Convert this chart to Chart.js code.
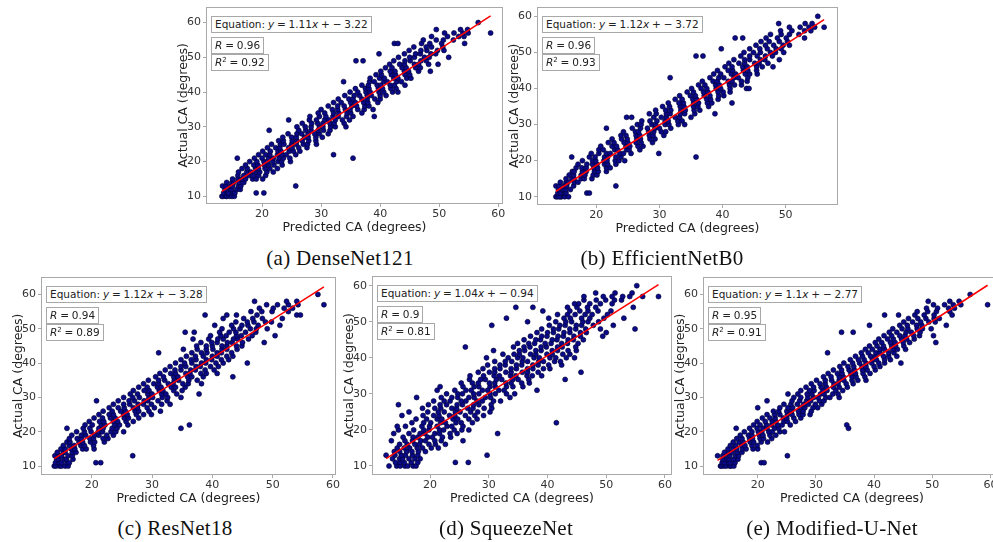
<!DOCTYPE html>
<html>
<head>
<meta charset="utf-8">
<script src="https://cdn.jsdelivr.net/npm/chart.js@4.4.1/dist/chart.umd.min.js"></script>
<style>
  body { margin: 0; background: #fff; width: 993px; height: 542px; overflow: hidden; position: relative; }
  canvas { position: absolute; display: block; }
  .ann { position: absolute; border: 1px solid #a8a8a8; background: #fff; font: 10.5px "DejaVu Sans"; color: #222;
         padding: 1px 3px; white-space: nowrap; line-height: 13px; word-spacing: -0.5px; }
  .ann sup { font-size: 7px; line-height: 0; vertical-align: 4px; }
  .cap { position: absolute; font: 21px "Liberation Serif"; color: #111; white-space: nowrap;
         transform: translateX(-50%); line-height: 24px; letter-spacing: 0.3px; }
</style>
</head>
<body>
<script>
// tick labels
var xTicks = [20, 30, 40, 50, 60];
var yTicks = [10, 20, 30, 40, 50, 60];

// fitted line of each model: y = slope * x + intercept
var slopes = [1.11, 1.12, 1.12, 1.04, 1.1];
var intercepts = [-3.22, -3.72, -3.28, -0.94, -2.77];
var rValues = [0.96, 0.96, 0.94, 0.9, 0.95];
var r2Values = [0.92, 0.93, 0.89, 0.81, 0.91];
var captions = ["(a) DenseNet121", "(b) EfficientNetB0", "(c) ResNet18", "(d) SqueezeNet", "(e) Modified-U-Net"];

// each row: [actual CA, predicted CA, predicted CA, ...]
var denseRows = [
  [10, 13.2,13.4,13.9,14.0,14.5,14.9,15.3],
  [11, 13.5,14.1,14.3,15.1,15.4,19.0,20.3],
  [12, 13.7,14.6,14.8,15.7,16.3],
  [13, 13.3,13.9,14.7,15.0,16.0,16.4,25.7],
  [14, 14.0,14.9,15.2,16.1,16.9],
  [15, 15.0,15.9,16.6,17.2,18.4,19.0,20.1],
  [16, 15.9,16.9,17.8,18.6,19.4,20.6],
  [17, 16.0,17.4,18.1,19.0,19.6,20.8,21.9],
  [18, 16.6,17.5,18.9,19.4,20.5,21.3,22.6],
  [19, 17.2,18.6,19.3,20.4,21.1,22.0,23.4],
  [20, 17.9,19.1,20.3,20.9,21.8,22.7,23.3,24.8],
  [21, 15.8,18.7,20.0,21.1,21.9,22.9,23.6,24.7,35.4],
  [22, 19.4,20.6,21.3,22.6,23.4,24.1,25.7,32.1],
  [23, 20.1,21.4,22.7,23.2,24.6,25.3,26.4],
  [24, 20.9,22.3,23.0,24.5,25.1,26.2,27.6],
  [25, 21.6,23.1,23.7,25.0,25.8,27.0,27.7,29.2],
  [26, 22.8,23.6,25.1,25.9,26.8,27.9,29.1],
  [27, 23.5,25.0,25.8,27.2,27.8,29.1,30.2],
  [28, 24.4,25.9,26.7,27.8,28.9,29.7,31.2],
  [29, 21.2,26.2,27.4,28.3,29.5,30.4,31.5],
  [30, 25.9,27.3,28.3,29.7,30.3,31.6,32.4,34.2],
  [31, 26.8,28.4,29.4,30.3,31.5,32.2,33.9],
  [32, 24.5,28.0,29.2,30.6,31.3,32.4,33.6,34.8],
  [33, 28.1,29.7,30.8,32.0,32.9,34.3,35.4,39.0],
  [34, 29.5,30.6,32.1,33.0,34.4,35.0,36.9],
  [35, 30.0,31.9,32.8,34.1,34.9,36.2,37.3,38.8],
  [36, 31.2,32.8,33.9,35.2,36.0,37.4,38.1],
  [37, 32.1,33.4,35.0,35.8,37.2,37.9,39.6],
  [38, 32.9,34.7,35.4,36.9,37.8,39.1,40.0],
  [39, 34.0,35.6,36.5,37.8,38.5,40.0,41.0],
  [40, 34.9,36.2,37.6,38.3,39.8,40.6,42.1,43.0],
  [41, 35.8,37.5,38.1,39.7,40.4,41.8,42.7],
  [42, 36.9,38.0,39.5,40.1,41.7,42.4,44.2],
  [43, 33.8,38.2,39.0,40.6,41.2,42.8,43.6],
  [44, 38.3,39.9,40.7,42.3,43.0,44.5,45.2],
  [45, 39.3,40.2,41.9,42.6,44.2,45.0],
  [46, 40.1,41.7,42.5,44.1,44.8,46.5,48.5],
  [47, 40.9,42.0,43.7,44.4,46.0,46.8],
  [48, 41.6,43.3,44.1,45.8,46.5,48.2,49.8],
  [49, 35.9,37.1,42.3,44.2,45.1,46.9,47.8],
  [50, 43.1,45.0,45.8,47.5,48.3,51.6],
  [51, 39.8,44.1,46.0,46.8,48.6,49.4],
  [52, 44.9,46.9,47.9,49.7,50.8],
  [53, 45.7,47.8,48.7,50.6],
  [54, 42.4,43.0,47.0,48.4,50.4,54.3],
  [55, 47.3,49.5,50.7,52.4],
  [56, 48.7,51.4,53.3,54.2],
  [57, 50.9,52.5,54.0,54.9,58.7],
  [58, 49.5,53.6,54.8],
  [60, 56.6]
];

var efficientRows = [
  [10, 13.6,13.8,14.3,14.5,15.0,15.6,14.1],
  [11, 13.9,14.3,15.0,15.2,18.5,18.9],
  [12, 14.0,14.8,15.1,15.9],
  [13, 13.6,14.1,14.9,15.3,16.4,23.1],
  [14, 14.3,15.2,15.5,16.5,17.1],
  [15, 15.2,16.1,16.5,17.6,18.1,19.3],
  [16, 15.7,16.4,17.6,18.2,19.5,20.1],
  [17, 16.2,16.5,17.8,18.4,19.7,20.3,21.6],
  [18, 16.8,17.7,18.4,19.6,20.2,21.6,22.2],
  [19, 17.1,18.5,19.4,20.1,21.3,21.8,23.1],
  [20, 17.8,19.4,19.9,21.2,21.7,23.0,23.6,24.5],
  [21, 16.1,18.9,19.8,21.3,21.8,23.1,23.9,35.8],
  [22, 19.2,20.4,21.6,22.2,23.7,24.3,25.5,29.9],
  [23, 20.4,21.1,22.9,23.4,24.8,25.2,26.9],
  [24, 20.7,22.5,23.2,24.7,25.3,26.6,27.4],
  [25, 21.9,22.8,24.4,25.0,26.3,27.1,28.9],
  [26, 22.5,24.0,24.9,26.4,27.0,28.5,29.3],
  [27, 23.9,24.7,26.3,26.9,28.4,29.0,30.7],
  [28, 24.3,26.2,26.7,28.3,29.1,30.3,31.0],
  [29, 21.6,25.7,27.0,28.1,29.3,30.0,31.8],
  [30, 26.5,27.1,28.8,29.4,30.9,31.5,33.0,34.0],
  [31, 27.2,28.5,29.6,30.9,31.4,32.9,33.6],
  [32, 24.8,25.6,29.1,30.3,31.1,32.5,33.2,35.0],
  [33, 28.4,29.5,31.1,31.7,33.3,34.0,35.6,38.8],
  [34, 29.4,31.0,31.8,33.4,34.1,35.5,36.4],
  [35, 30.5,31.6,33.3,33.9,35.4,36.1,37.8],
  [36, 31.4,33.1,33.8,35.4,36.2,37.6,38.3,41.5],
  [37, 32.5,33.6,35.3,35.9,37.5,38.1,39.3],
  [38, 33.2,34.9,35.7,37.1,38.0,39.4,40.2],
  [39, 34.4,35.4,37.0,37.7,39.3,40.1,41.2],
  [40, 35.1,36.6,37.5,39.0,39.7,41.2,43.8,44.2],
  [41, 36.2,37.2,38.9,39.5,41.1,41.9,43.0],
  [42, 36.8,38.5,39.2,40.9,41.5,43.0,43.9],
  [43, 31.7,38.0,39.4,40.2,41.8,42.5,44.0],
  [44, 38.6,39.7,41.4,42.1,43.6,44.3,45.5],
  [45, 39.2,40.9,41.6,43.3,44.0,45.4],
  [46, 40.4,41.5,43.2,43.9,45.4,46.3,48.0],
  [47, 41.0,42.6,43.5,45.1,45.8,47.2],
  [48, 41.8,43.5,44.3,46.0,46.7,49.0],
  [49, 35.8,36.9,42.9,44.3,45.5,46.8,47.9],
  [50, 43.4,44.9,46.0,47.6,48.4,49.7],
  [51, 39.8,44.3,45.9,47.1,48.5,49.3],
  [52, 45.3,46.8,48.1,49.6,50.6],
  [53, 46.1,47.4,49.0,50.3],
  [54, 42.0,43.2,46.9,48.7,50.1,53.0],
  [55, 47.6,49.3,50.6,52.1],
  [56, 49.2,51.0,53.0,54.0],
  [57, 50.6,52.3,53.7,54.6,56.1],
  [58, 48.9,53.1,54.2],
  [60, 55.1]
];

var resnetRows = [
  [10, 13.8,14.1,14.7,15.0,15.6,16.1],
  [11, 14.0,14.6,15.0,15.9,16.3,20.7,21.5],
  [12, 14.2,14.5,15.4,15.8,16.9],
  [13, 13.9,14.6,15.0,16.1,16.8,26.8],
  [14, 14.3,15.3,15.6,16.8,17.4],
  [15, 14.9,15.6,16.6,17.2,18.5,19.1,20.4],
  [16, 15.3,16.3,17.1,18.2,18.8,20.3],
  [17, 15.9,16.4,17.9,18.5,19.8,20.5,22.1],
  [18, 16.3,17.6,18.3,19.7,20.3,21.9,22.7],
  [19, 16.7,18.3,19.0,20.5,21.2,22.5,23.6],
  [20, 17.5,18.8,19.9,21.1,21.8,23.2,24.0,25.3],
  [21, 15.9,18.6,19.7,21.2,21.9,23.4,24.2,34.8],
  [22, 18.9,20.1,21.6,22.2,23.8,24.6,26.0,36.2],
  [23, 19.6,21.3,22.0,23.6,24.3,25.7,26.9],
  [24, 20.4,21.8,23.1,23.9,25.4,26.1,27.8],
  [25, 21.2,22.9,23.6,25.3,25.9,27.4,28.6,29.9],
  [26, 21.9,23.4,24.8,25.6,27.2,27.8,29.5,31.4],
  [27, 22.9,24.4,25.4,26.9,27.6,29.2,30.4],
  [28, 23.6,25.3,26.3,27.7,28.6,29.9,31.6,33.0],
  [29, 20.8,24.4,26.2,27.1,28.7,29.3,31.0,32.5],
  [30, 25.3,26.8,27.9,29.5,30.1,31.7,32.6,34.8],
  [31, 26.4,27.6,29.3,30.0,31.6,32.3,34.1,37.8],
  [32, 26.9,28.7,29.5,31.2,31.8,33.6,35.0],
  [33, 27.8,29.2,30.9,31.5,33.2,33.9,35.5],
  [34, 28.6,30.3,31.1,32.7,33.5,35.1,36.0,38.2],
  [35, 29.4,31.1,32.1,33.7,34.4,36.1,37.5],
  [36, 30.6,31.9,33.6,34.3,35.9,36.6,38.5,43.4],
  [37, 31.3,33.1,33.9,35.6,36.3,38.1,39.0,40.8],
  [38, 32.2,33.8,34.8,36.4,37.2,38.8,40.3],
  [39, 33.0,34.8,35.6,37.3,38.0,39.7,41.0],
  [40, 33.9,35.4,36.6,38.2,38.9,40.6,41.8,45.8],
  [41, 34.8,36.5,37.3,39.0,39.9,41.5,42.7],
  [42, 35.7,37.2,38.5,40.0,40.8,42.4,43.4],
  [43, 31.1,36.6,38.2,39.1,40.8,41.5,43.2],
  [44, 35.2,37.5,39.0,40.1,41.6,42.4,44.1],
  [45, 37.4,39.0,40.0,41.6,42.4,44.0,44.9],
  [46, 38.1,39.9,40.8,42.5,43.3,45.0,48.6],
  [47, 36.8,39.4,40.9,41.8,43.5,44.2,46.0],
  [48, 39.7,41.4,42.3,44.0,44.8,46.6,50.4],
  [49, 35.5,37.0,41.2,42.8,43.9,45.5,47.2],
  [50, 41.6,43.5,44.6,46.3,47.3,49.1],
  [51, 40.4,43.2,44.9,45.9,47.6,51.2],
  [52, 43.9,45.8,46.9,48.8,49.8],
  [53, 41.8,45.2,46.7,48.3,51.6],
  [54, 38.8,42.4,44.0,47.4,54.0,54.6],
  [55, 46.4,48.2,49.9,52.6],
  [56, 47.8,50.1,51.9,53.3],
  [57, 49.0,50.8,52.6,54.2,58.5],
  [58, 47.0,52.3,54.0],
  [60, 57.5]
];

var squeezeRows = [
  [10, 13.0,14.3,14.9,15.7,16.2,17.1,17.6],
  [11, 14.1,14.9,15.6,16.8,17.9,24.3,26.5],
  [12, 13.6,14.8,15.3,16.4,17.4,18.3],
  [13, 12.5,14.0,15.1,15.8,17.0,17.9,29.7],
  [14, 13.9,14.8,16.0,16.9,18.0,19.2],
  [15, 14.4,15.6,16.5,17.8,18.7,20.2,21.4],
  [16, 14.8,16.1,17.4,18.2,19.8,20.9,22.6],
  [17, 13.4,15.7,17.0,18.4,19.2,20.8,21.9,25.6],
  [18, 15.4,17.1,17.9,19.6,20.4,22.1,23.5],
  [19, 13.8,16.4,18.3,19.1,20.8,21.6,23.4,24.6,31.5],
  [20, 14.6,17.2,18.9,19.8,21.6,22.3,24.1,25.4,26.6],
  [21, 14.4,15.8,18.6,19.9,21.2,22.9,23.7,25.6],
  [22, 16.9,18.9,20.1,21.8,22.6,24.4,25.3,27.2,41.5],
  [23, 17.6,19.4,21.2,22.0,23.9,24.7,26.6,28.0],
  [24, 15.2,18.8,20.6,21.5,23.3,24.2,26.0,27.6,29.1],
  [25, 16.4,19.6,21.4,22.4,24.3,25.1,26.9,28.1,30.2],
  [26, 18.7,20.8,21.8,23.7,24.5,26.4,27.3,29.2,30.5],
  [27, 14.6,19.7,21.7,22.8,24.6,25.5,27.4,28.3,30.4],
  [28, 20.6,22.4,23.4,25.3,26.1,28.0,28.9,30.8,32.0],
  [29, 17.7,21.9,23.7,24.7,26.6,27.5,29.4,30.3,33.6],
  [30, 22.8,24.7,25.5,27.4,28.3,30.2,31.1,33.0,34.4],
  [31, 21.2,24.2,26.1,27.0,28.9,29.8,31.7,32.6,38.2],
  [32, 21.7,25.6,27.5,28.3,30.2,31.1,33.0,34.1,35.8],
  [33, 25.3,27.2,28.2,30.1,31.0,32.9,33.8,35.6,36.9],
  [34, 26.7,28.6,29.4,31.3,32.2,34.1,35.0,36.8,43.0],
  [35, 26.8,29.1,30.9,31.8,33.7,34.6,36.5,37.4,39.0],
  [36, 28.2,30.1,31.0,32.9,33.8,35.7,36.6,38.4,45.7],
  [37, 29.0,31.0,31.9,33.8,34.7,36.6,37.5,39.3,40.4],
  [38, 29.8,31.9,32.8,34.7,35.6,37.5,38.4,40.2,42.4],
  [39, 31.0,32.8,33.9,35.7,36.6,38.5,39.3,41.2,42.2],
  [40, 29.6,33.3,34.9,35.8,37.7,38.6,40.4,41.4,43.2,44.6],
  [41, 32.4,34.3,35.2,37.1,38.0,39.9,40.8,42.6,43.8],
  [42, 30.8,35.2,36.1,38.0,38.9,40.8,41.7,43.5,44.9],
  [43, 26.0,34.2,36.0,37.0,38.9,39.8,41.7,42.5,44.8],
  [44, 34.9,36.8,37.8,39.6,40.6,42.4,43.4,45.2],
  [45, 36.0,38.0,38.8,40.8,41.6,43.5,44.4,46.1],
  [46, 37.1,39.0,39.9,41.8,42.7,44.5,45.6,49.4],
  [47, 38.2,40.0,41.0,42.8,43.8,45.6,46.6,50.0],
  [48, 39.0,41.0,41.9,43.8,44.8,46.5,49.0,54.9],
  [49, 30.5,40.3,42.1,43.0,44.9,45.8,47.8,51.2],
  [50, 36.6,41.4,43.1,44.1,46.0,46.9,48.7],
  [51, 33.0,40.2,42.8,43.9,45.8,47.2,49.6,53.0],
  [52, 41.7,43.4,44.7,46.4,47.6,50.2],
  [53, 39.2,43.8,45.5,46.9,48.6,50.8],
  [54, 34.6,37.5,43.4,45.0,46.8,48.2,54.6],
  [55, 44.6,45.3,47.2,49.0,51.0],
  [56, 46.2,48.3,49.9,51.4,52.6],
  [57, 46.2,49.5,51.0,52.8,54.0,56.2,58.9],
  [58, 48.2,51.5,54.4],
  [60, 55.2]
];

var unetRows = [
  [10, 13.6,13.8,14.2,14.6,15.2,15.4,15.9],
  [11, 13.9,14.3,15.0,15.3,16.1,20.6,21.1],
  [12, 14.0,14.7,15.1,15.9,16.6],
  [13, 13.1,14.0,14.8,15.2,16.2,16.7,25.1],
  [14, 14.3,15.1,15.6,16.5,17.3],
  [15, 14.9,15.8,16.4,17.4,18.0,19.2,20.0],
  [16, 15.3,16.2,17.2,17.8,19.0,19.9],
  [17, 15.8,16.8,17.5,18.7,19.3,20.6,21.7],
  [18, 16.4,17.3,18.6,19.1,20.4,21.0,22.4],
  [19, 17.0,18.4,19.0,20.3,20.9,22.1,23.1],
  [20, 17.7,19.0,20.1,20.7,21.9,22.5,23.8,24.6],
  [21, 16.3,18.6,19.9,20.9,21.6,22.9,23.6,35.6],
  [22, 19.3,20.4,21.5,22.4,23.4,24.2,25.6,35.3],
  [23, 19.9,21.3,22.5,23.1,24.5,25.1,26.5],
  [24, 20.8,22.1,23.0,24.4,25.0,26.2,27.4],
  [25, 21.6,22.9,23.8,25.1,25.9,27.1,27.8,29.0],
  [26, 22.7,23.6,25.0,25.8,27.0,27.8,29.2],
  [27, 20.0,23.8,25.2,26.0,27.4,28.1,29.5,30.3],
  [28, 24.5,25.7,26.8,27.9,28.7,29.9,31.0],
  [29, 21.6,25.9,27.2,28.4,29.1,30.6,31.4],
  [30, 26.2,27.4,28.6,29.6,30.4,31.7,32.4,34.0],
  [31, 25.2,26.9,28.5,29.3,30.8,31.4,32.9,33.8],
  [32, 27.4,28.9,29.7,31.2,31.9,33.4,34.6],
  [33, 28.3,29.6,30.9,31.8,33.0,34.0,35.4],
  [34, 29.2,30.7,31.6,33.1,33.8,35.2,36.4],
  [35, 30.1,31.6,32.7,34.0,34.8,36.2,37.2,38.6],
  [36, 31.3,32.6,34.0,34.7,36.2,36.9,38.4],
  [37, 32.1,33.7,34.5,36.0,36.8,38.1,39.3],
  [38, 33.0,34.4,35.7,36.6,38.0,38.8,40.2],
  [39, 34.1,35.5,36.5,37.9,38.6,40.0,41.0],
  [40, 34.8,36.3,37.5,38.6,39.6,40.8,41.8,44.6],
  [41, 35.9,37.3,38.3,39.7,40.4,41.8,42.8],
  [42, 36.8,38.0,39.4,40.2,41.6,42.5,43.9],
  [43, 32.0,37.8,39.0,40.3,41.0,42.5,43.4],
  [44, 38.5,39.7,41.0,41.8,43.2,44.0,45.4],
  [45, 39.2,40.5,41.6,43.0,43.7,45.1],
  [46, 40.2,41.3,42.8,43.6,45.0,46.1,50.6],
  [47, 40.8,42.3,43.3,44.7,45.6,46.9],
  [48, 41.7,43.0,44.4,45.3,46.8,47.8,50.2],
  [49, 34.4,36.4,42.6,43.9,45.5,46.4,47.9],
  [50, 43.2,44.8,45.8,47.4,48.3,49.8],
  [51, 39.2,44.4,45.7,47.3,48.2,52.4],
  [52, 45.1,46.6,48.0,49.4,50.5],
  [53, 45.9,47.5,48.9,50.3,51.2],
  [54, 41.8,44.2,47.0,48.6,50.3,53.4],
  [55, 47.4,49.2,50.7,53.0],
  [56, 49.0,50.9,52.8,53.8],
  [57, 50.2,52.1,53.6,54.9,59.5],
  [58, 49.3,53.0,54.6],
  [60, 56.5]
];

var allRows = [denseRows, efficientRows, resnetRows, squeezeRows, unetRows];

// page layout: plot box [left, top, right, bottom], axis limits, caption centre
var panels = [
  { box: [206, 6, 503, 204],    xr: [10.5, 60.8], yr: [7.8, 64.6], cap: [340, 258] },
  { box: [537, 6, 838, 205],    xr: [10.6, 58.3], yr: [7.7, 62.7], cap: [662, 258] },
  { box: [41, 276, 336, 475],   xr: [11.6, 60.5], yr: [7.4, 65.2], cap: [175, 528] },
  { box: [372, 275, 672, 475],  xr: [10.1, 61.2], yr: [7.5, 62.8], cap: [506, 528] },
  { box: [703, 276, 1001, 475], xr: [10.6, 61.8], yr: [7.4, 65.2], cap: [832, 528] }
];

var yW = 30, xH = 31, padT = 8, padR = 12;
var spineColor = "#a9a9a9";

// draws the full box round the plot area
var boxPlugin = {
  id: "boxFrame",
  afterDatasetsDraw: function(chart) {
    var a = chart.chartArea, ctx = chart.ctx;
    ctx.save();
    ctx.strokeStyle = spineColor;
    ctx.lineWidth = 1;
    ctx.strokeRect(Math.round(a.left) + 0.5, Math.round(a.top) + 0.5,
      Math.round(a.right - a.left) - 1, Math.round(a.bottom - a.top) - 1);
    ctx.restore();
  }
};

function tickFilter(list) {
  return function(s) {
    s.ticks = list.filter(function(v) { return v >= s.min && v <= s.max; })
                  .map(function(v) { return { value: v }; });
  };
}

function addDiv(cls, html, left, top) {
  var d = document.createElement("div");
  d.className = cls;
  d.innerHTML = html;
  d.style.left = left + "px";
  d.style.top = top + "px";
  document.body.appendChild(d);
  return d;
}

panels.forEach(function(p, i) {
  var l = p.box[0], t = p.box[1], r = p.box[2], b = p.box[3];
  var cv = document.createElement("canvas");
  cv.width = (r - l) + yW + padR;
  cv.height = (b - t) + padT + xH;
  cv.style.left = (l - yW) + "px";
  cv.style.top = (t - padT) + "px";
  document.body.appendChild(cv);

  var pts = [];
  allRows[i].forEach(function(row) {
    for (var j = 1; j < row.length; j++) pts.push({ x: row[j], y: row[0] });
  });
  var xs = pts.map(function(d) { return d.x; });
  var xMin = Math.min.apply(null, xs), xMax = Math.max.apply(null, xs);
  var fit = [xMin, xMax].map(function(x) { return { x: x, y: slopes[i] * x + intercepts[i] }; });

  new Chart(cv, {
    type: "scatter",
    data: {
      datasets: [
        { type: "line", data: fit, borderColor: "#ff0000", borderWidth: 1.5, pointRadius: 0, fill: false },
        { data: pts, pointRadius: 2.5, backgroundColor: "#0b0b8a", borderColor: "#00002e", borderWidth: 0.6 }
      ]
    },
    options: {
      responsive: false,
      animation: false,
      events: [],
      layout: { padding: { top: padT, right: padR, left: 0, bottom: 0 } },
      plugins: { legend: { display: false }, tooltip: { enabled: false } },
      scales: {
        x: {
          type: "linear", min: p.xr[0], max: p.xr[1],
          afterBuildTicks: tickFilter(xTicks),
          afterFit: function(s) { s.height = xH; },
          grid: { drawOnChartArea: false, tickLength: 3, color: spineColor },
          border: { display: false },
          ticks: { font: { family: "DejaVu Sans", size: 11 }, color: "#333", padding: 1, maxRotation: 0 },
          title: { display: true, text: "Predicted CA (degrees)", color: "#222",
                   font: { family: "DejaVu Sans", size: 12.5, lineHeight: 1.2 }, padding: 0 }
        },
        y: {
          type: "linear", min: p.yr[0], max: p.yr[1],
          afterBuildTicks: tickFilter(yTicks),
          afterFit: function(s) { s.width = yW; },
          grid: { drawOnChartArea: false, tickLength: 3, color: spineColor },
          border: { display: false },
          ticks: { font: { family: "DejaVu Sans", size: 11 }, color: "#333", padding: 2 },
          title: { display: true, text: "Actual CA (degrees)", color: "#222",
                   font: { family: "DejaVu Sans", size: 12.5, lineHeight: 1.2 }, padding: 0 }
        }
      }
    },
    plugins: [boxPlugin]
  });

  addDiv("ann", "Equation: <i>y</i> = " + slopes[i] + "<i>x</i> + \u2212 " + Math.abs(intercepts[i]), l + 5, t + 10);
  addDiv("ann", "<i>R</i> = " + rValues[i], l + 5, t + 31);
  addDiv("ann", "<i>R</i><sup>2</sup> = " + r2Values[i], l + 5, t + 48);

  addDiv("cap", captions[i], p.cap[0], p.cap[1] - 12);
});
</script>
</body>
</html>
